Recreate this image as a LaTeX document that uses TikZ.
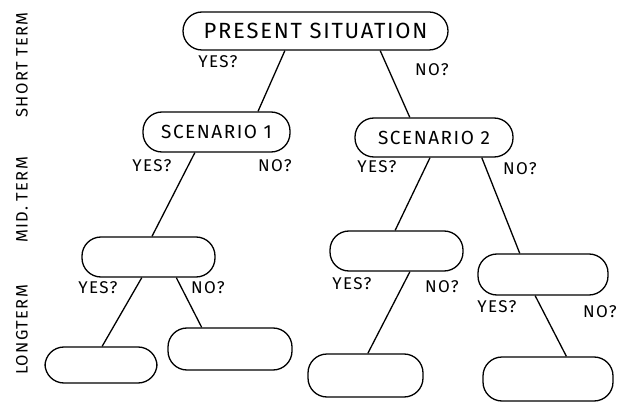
\documentclass[tikz,border=0pt]{standalone}
\usepackage{fontspec}
\setmainfont{Fira Sans}[LetterSpace=8]
\usetikzlibrary{calc}
\begin{document}
\begin{tikzpicture}[x=1pt,y=-1pt,
  pill/.style={draw, line width=1.3pt, rounded corners=19pt, inner sep=0pt, align=center},
  lbl/.style={font=\fontsize{17}{17}\selectfont, inner sep=0pt},
  side/.style={font=\fontsize{16.5}{16.5}\selectfont, rotate=90, inner sep=0pt},
  link/.style={line width=1.3pt}]
\useasboundingbox (0,0) rectangle (631,403);
% boxes
\node[pill, minimum width=265pt, minimum height=38pt, font=\fontsize{22}{22}\selectfont] (ps) at (315.5,31) {PRESENT SITUATION};
\node[pill, minimum width=147pt, minimum height=40pt, font=\fontsize{19}{19}\selectfont] (s1) at (216.5,132) {SCENARIO 1};
\node[pill, minimum width=158pt, minimum height=39pt, font=\fontsize{19}{19}\selectfont] (s2) at (434,137.5) {SCENARIO 2};
\node[pill, minimum width=133pt, minimum height=40pt] (l1) at (148.5,257) {};
\node[pill, minimum width=133pt, minimum height=40pt] (r1) at (396.5,251) {};
\node[pill, minimum width=130pt, minimum height=41pt] (r2) at (543,274.5) {};
\node[pill, minimum width=112pt, minimum height=36pt] (ll) at (101,365) {};
\node[pill, minimum width=124pt, minimum height=42pt] (lr) at (230,349) {};
\node[pill, minimum width=115pt, minimum height=43pt] (rb1) at (365.5,375.5) {};
\node[pill, minimum width=130pt, minimum height=44pt] (rb2) at (548,379) {};
% connectors
\draw[link] ($(ps.south west)!0.385!(ps.south east)$) -- ($(s1.north west)!0.78!(s1.north east)$);
\draw[link] ($(ps.south west)!0.743!(ps.south east)$) -- ($(s2.north west)!0.348!(s2.north east)$);
\draw[link] ($(s1.south west)!0.354!(s1.south east)$) -- ($(l1.north west)!0.526!(l1.north east)$);
\draw[link] ($(s2.south west)!0.475!(s2.south east)$) -- ($(r1.north west)!0.49!(r1.north east)$);
\draw[link] ($(s2.south west)!0.80!(s2.south east)$) -- ($(r2.north west)!0.323!(r2.north east)$);
\draw[link] ($(l1.south west)!0.45!(l1.south east)$) -- ($(ll.north west)!0.51!(ll.north east)$);
\draw[link] ($(l1.south west)!0.707!(l1.south east)$) -- ($(lr.north west)!0.274!(lr.north east)$);
\draw[link] ($(r1.south west)!0.60!(r1.south east)$) -- ($(rb1.north west)!0.52!(rb1.north east)$);
\draw[link] ($(r2.south west)!0.44!(r2.south east)$) -- ($(rb2.north west)!0.64!(rb2.north east)$);
% labels
\node[lbl] (y0) at (218,62) {YES?};
\node[lbl] (n0) at (432,70) {NO?};
\node[lbl] (y1) at (152,166) {YES?};
\node[lbl] (n1) at (275,166) {NO?};
\node[lbl] (y2) at (377,167) {YES?};
\node[lbl] (n2) at (520,169) {NO?};
\node[lbl] (y3) at (98,288) {YES?};
\node[lbl] (n3) at (208,288) {NO?};
\node[lbl] (y4) at (352,284) {YES?};
\node[lbl] (n4) at (442,287) {NO?};
\node[lbl] (y5) at (497,307) {YES?};
\node[lbl] (n5) at (600,312) {NO?};
% side labels
\node[side] (st) at (22,65) {SHORT TERM};
\node[side] (mt) at (22,200) {MID. TERM};
\node[side] (lt) at (22,330) {LONGTERM};
\end{tikzpicture}
\end{document}
